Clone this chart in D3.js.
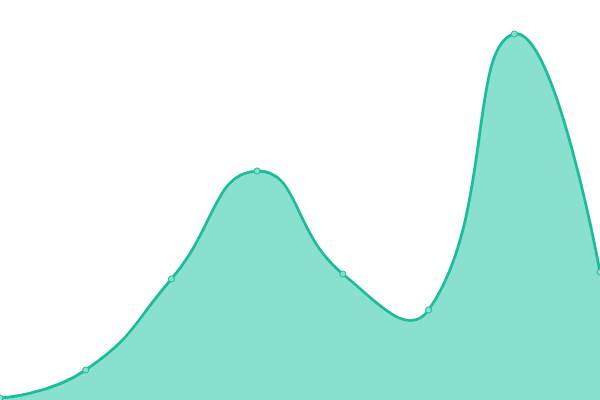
<!DOCTYPE html>
<html>
<head>
<meta charset="utf-8">
<script src="https://cdn.jsdelivr.net/npm/d3@7"></script>
<style>
  html, body { margin: 0; padding: 0; background: #fff; }
  svg { display: block; }
</style>
</head>
<body>
<svg id="chart" width="600" height="400"></svg>
<script>
// data
var categories = ["1", "2", "3", "4", "5", "6", "7", "8"];
var values = [2, 30, 121, 229, 126, 90, 366, 128];

var width = 600, height = 400;
var svg = d3.select("#chart");

var x = d3.scalePoint().domain(categories).range([0, width]);
var y = d3.scaleLinear().domain([0, 400]).range([height, 0]);

var pts = categories.map(function(c, i) { return {c: c, v: values[i]}; });

//
// smooth curve: control points along (next - prev), split by segment length
//
function SmoothCurve(context) { this._context = context; }
SmoothCurve.prototype = {
	areaStart: function() { this._line = 0; },
	areaEnd: function() { this._line = NaN; },
	lineStart: function() { this._xs = []; this._ys = []; },
	point: function(px, py) { this._xs.push(+px); this._ys.push(+py); },
	lineEnd: function() {
		var xs = this._xs, ys = this._ys, n = xs.length, c = this._context;
		var s = 0.5;
		if (n) {
			if (this._line) c.lineTo(xs[0], ys[0]); else c.moveTo(xs[0], ys[0]);
			var cpx0 = xs[0], cpy0 = ys[0], ncx = 0, ncy = 0;
			for (var k = 1; k < n; k++) {
				var px = xs[k], py = ys[k], prevX = xs[k - 1], prevY = ys[k - 1];
				var cpx1, cpy1;
				if (k === n - 1) {
					cpx1 = px; cpy1 = py;
				} else {
					var nextX = xs[k + 1], nextY = ys[k + 1];
					var vx = nextX - prevX, vy = nextY - prevY;
					var lp = Math.sqrt((px - prevX) * (px - prevX) + (py - prevY) * (py - prevY));
					var ln = Math.sqrt((nextX - px) * (nextX - px) + (nextY - py) * (nextY - py));
					var r = ln / (ln + lp);
					cpx1 = px - vx * s * (1 - r);
					cpy1 = py - vy * s * (1 - r);
					ncx = px + vx * s * r;
					ncy = py + vy * s * r;
				}
				c.bezierCurveTo(cpx0, cpy0, cpx1, cpy1, px, py);
				cpx0 = ncx; cpy0 = ncy;
			}
		}
		if (this._line || (this._line !== 0 && n === 1)) c.closePath();
		this._line = 1 - this._line;
	}
};
function curveSmooth(context) { return new SmoothCurve(context); }

var area = d3.area()
	.x(function(d) { return x(d.c); })
	.y0(height)
	.y1(function(d) { return y(d.v); })
	.curve(curveSmooth);

var line = d3.line()
	.x(function(d) { return x(d.c); })
	.y(function(d) { return y(d.v); })
	.curve(curveSmooth);

svg.append("path")
	.datum(pts)
	.attr("fill", "#8ae0cf")
	.attr("d", area);

svg.append("path")
	.datum(pts)
	.attr("fill", "none")
	.attr("stroke", "#1abc9c")
	.attr("stroke-width", 2.8)
	.attr("d", line);

svg.selectAll("circle.dot")
	.data(pts)
	.enter().append("circle")
	.attr("class", "dot")
	.attr("cx", function(d) { return x(d.c); })
	.attr("cy", function(d) { return y(d.v); })
	.attr("r", 3)
	.attr("fill", "#8ae0cf")
	.attr("stroke", "#1abc9c")
	.attr("stroke-width", 1);
</script>
</body>
</html>
